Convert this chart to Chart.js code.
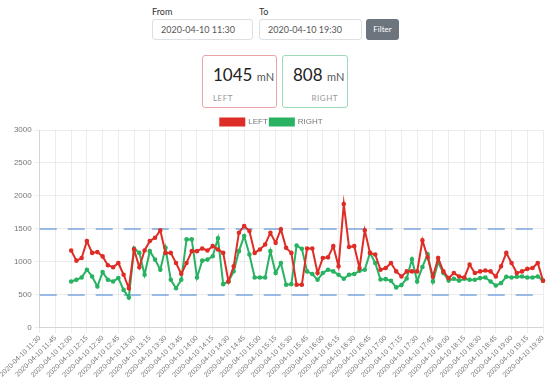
<!DOCTYPE html>
<html>
<head>
<meta charset="utf-8">
<script src="https://cdn.jsdelivr.net/npm/chart.js@4.4.0/dist/chart.umd.min.js"></script>
<style>
  body { margin: 0; width: 550px; height: 380px; background: #fff; font-family: Lato, "Open Sans", sans-serif; color: #333; overflow: hidden; position: relative; }
  .etiqueta { position: absolute; top: 6px; font-size: 9px; color: #333; }
  .campo { position: absolute; top: 19px; height: 21px; box-sizing: border-box; border: 1px solid #dcdfe3; border-radius: 3px; font-size: 9px; color: #555; line-height: 19px; padding-left: 8px; }
  .boton { position: absolute; top: 19px; left: 366px; width: 33px; height: 21px; background: #6c757d; border-radius: 3px; color: #fff; font-size: 8px; text-align: center; line-height: 21px; }
  .tarjeta { position: absolute; top: 55px; height: 53px; box-sizing: border-box; border-radius: 3px; padding: 9px 0 0 10px; white-space: nowrap; }
  .valor { font-size: 17px; color: #222; line-height: 20px; }
  .valor span { font-size: 11px; color: #555; }
  .lado { font-size: 8px; color: #999; margin-top: 6px; letter-spacing: 0.5px; }
  #contenedor { position: absolute; left: 0; top: 116px; width: 550px; height: 264px; }
</style>
</head>
<body>
  <div class="etiqueta" style="left:152px">From</div>
  <div class="campo" style="left:152px;width:101px">2020-04-10 11:30</div>
  <div class="etiqueta" style="left:259px">To</div>
  <div class="campo" style="left:259px;width:103px">2020-04-10 19:30</div>
  <div class="boton">Filter</div>

  <div class="tarjeta" style="left:202px;width:75px;border:1.5px solid #eaa6a6">
    <div class="valor">1045 <span>mN</span></div>
    <div class="lado">LEFT</div>
  </div>
  <div class="tarjeta" style="left:282px;width:66px;border:1.5px solid #9ed9b9">
    <div class="valor">808 <span>mN</span></div>
    <div class="lado" style="text-align:right;padding-right:9px">RIGHT</div>
  </div>

  <div id="contenedor"><canvas id="graficoLinea"></canvas></div>

<script>
// Fecha y horas (cada 5 minutos) del eje X
const fecha = '2020-04-10';
const horas = [
  '11:30','11:35','11:40','11:45','11:50','11:55','12:00','12:05','12:10','12:15','12:20','12:25',
  '12:30','12:35','12:40','12:45','12:50','12:55','13:00','13:05','13:10','13:15','13:20','13:25',
  '13:30','13:35','13:40','13:45','13:50','13:55','14:00','14:05','14:10','14:15','14:20','14:25',
  '14:30','14:35','14:40','14:45','14:50','14:55','15:00','15:05','15:10','15:15','15:20','15:25',
  '15:30','15:35','15:40','15:45','15:50','15:55','16:00','16:05','16:10','16:15','16:20','16:25',
  '16:30','16:35','16:40','16:45','16:50','16:55','17:00','17:05','17:10','17:15','17:20','17:25',
  '17:30','17:35','17:40','17:45','17:50','17:55','18:00','18:05','18:10','18:15','18:20','18:25',
  '18:30','18:35','18:40','18:45','18:50','18:55','19:00','19:05','19:10','19:15','19:20','19:25',
  '19:30'
];

// Fuerza izquierda (mN)
const izquierda = [
  null, null, null, null, null, null,
  1174, 1020, 1060, 1317, 1138, 1150, 1085, 950, 920, 985, 807, 602,
  1190, 920, 1174, 1317, 1367, 1480, 1138, 1138, 985, 820, 985, 1164,
  1164, 1205, 1174, 1240, 1190, 1138, 705, 934, 1444, 1546, 1470, 1138,
  1190, 1266, 1444, 1290, 1496, 1214, 1138, 654, 654, 1205, 1205, 832,
  1060, 1070, 1240, 934, 1878, 1226, 1240, 908, 1480, 1138, 1113, 883,
  908, 985, 857, 781, 857, 857, 857, 1327, 1070, 781, 1060, 857,
  755, 832, 781, 765, 960, 832, 857, 870, 857, 781, 934, 1138,
  985, 832, 857, 895, 908, 985, 715
];

// Fuerza derecha (mN)
const derecha = [
  null, null, null, null, null, null,
  705, 730, 766, 883, 781, 628, 847, 730, 705, 756, 577, 460,
  1205, 1138, 807, 1164, 1036, 883, 1214, 730, 602, 730, 1342, 1342,
  766, 1020, 1036, 1087, 1358, 664, 705, 858, 1164, 1393, 1113, 766,
  766, 766, 1164, 832, 985, 654, 664, 1250, 1200, 857, 817, 730,
  832, 883, 857, 807, 745, 807, 817, 868, 883, 1138, 985, 735,
  740, 715, 615, 650, 750, 1040, 705, 925, 1118, 705, 1000, 832,
  718, 745, 718, 745, 730, 730, 756, 766, 705, 643, 680, 776,
  766, 776, 781, 766, 766, 781, 718
];

// Límites de referencia (líneas discontinuas)
const limites = [500, 1500];

// Plugin para dibujar los límites con la escala Y del gráfico
const lineasLimite = {
  id: 'lineasLimite',
  beforeDatasetsDraw(chart) {
    const { ctx, chartArea, scales } = chart;
    ctx.save();
    ctx.strokeStyle = 'rgba(120, 165, 220, 0.75)';
    ctx.lineWidth = 2;
    ctx.setLineDash([17, 11]);
    limites.forEach(v => {
      const y = scales.y.getPixelForValue(v);
      ctx.beginPath();
      ctx.moveTo(chartArea.left, y);
      ctx.lineTo(chartArea.right, y);
      ctx.stroke();
    });
    ctx.restore();
  }
};

// Reduce el espacio bajo la leyenda
const ajusteLeyenda = {
  id: 'ajusteLeyenda',
  beforeInit(chart) {
    const fitOriginal = chart.legend.fit;
    chart.legend.fit = function() {
      fitOriginal.bind(chart.legend)();
      this.height -= 6;
    };
  }
};

Chart.defaults.font.family = '"Liberation Sans", Arial, sans-serif';
Chart.defaults.color = '#777';

const ctx = document.getElementById('graficoLinea').getContext('2d');
new Chart(ctx, {
  type: 'line',
  data: {
    labels: horas,
    datasets: [{
      label: 'LEFT',
      data: izquierda,
      borderColor: 'rgb(222, 45, 38)',
      backgroundColor: 'rgb(222, 45, 38)',
      borderWidth: 2,
      pointRadius: 1.3,
      tension: 0
    }, {
      label: 'RIGHT',
      data: derecha,
      borderColor: 'rgb(40, 178, 98)',
      backgroundColor: 'rgb(40, 178, 98)',
      borderWidth: 2,
      pointRadius: 1.3,
      tension: 0
    }]
  },
  options: {
    responsive: true,
    maintainAspectRatio: false,
    animation: false,
    layout: { padding: { right: 7 } },
    scales: {
      x: {
        grid: { color: 'rgba(0,0,0,0.07)', tickLength: 5 },
        ticks: {
          autoSkip: false,
          maxRotation: 45,
          minRotation: 45,
          padding: 1,
          font: { size: 7 },
          callback: function(valor, i) {
            return i % 3 === 0 ? fecha + ' ' + horas[i] : null;
          }
        }
      },
      y: {
        min: 0,
        max: 3000,
        grid: { color: 'rgba(0,0,0,0.07)', tickLength: 5 },
        ticks: {
          stepSize: 500,
          font: { size: 8 },
          callback: valor => String(valor)
        }
      }
    },
    plugins: {
      legend: {
        position: 'top',
        labels: { boxWidth: 24, boxHeight: 7, padding: 2, font: { size: 8 } }
      },
      tooltip: { enabled: false }
    }
  },
  plugins: [lineasLimite, ajusteLeyenda]
});
</script>
</body>
</html>
